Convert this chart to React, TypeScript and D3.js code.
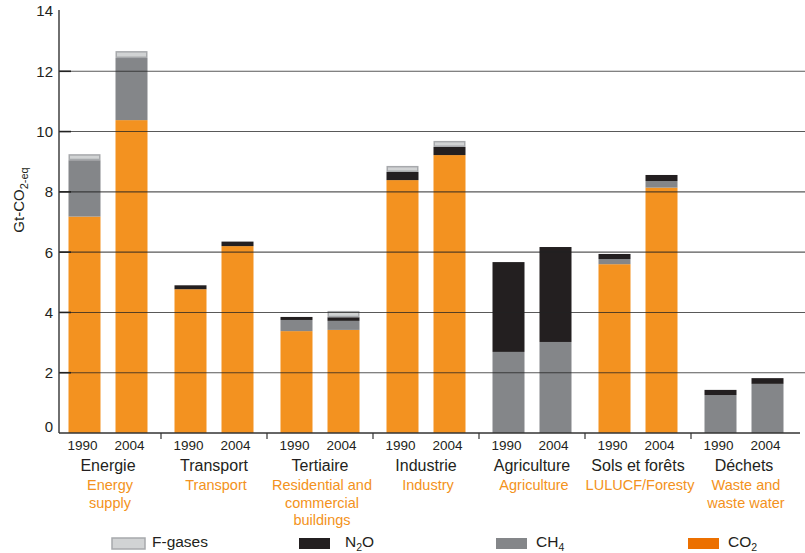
import React from "react";
import * as d3 from "d3";

const categoriesFr = ["Energie", "Transport", "Tertiaire", "Industrie", "Agriculture", "Sols et forêts", "Déchets"];
const categoriesEn = [
  ["Energy", "supply"],
  ["Transport"],
  ["Residential and", "commercial", "buildings"],
  ["Industry"],
  ["Agriculture"],
  ["LULUCF/Foresty"],
  ["Waste and", "waste water"],
];
const years = ["1990", "2004"];
const yTicks = [0, 2, 4, 6, 8, 10, 12, 14];

// values per category, in Gt CO2-eq
const co2_1990 = [7.18, 4.77, 3.38, 8.39, 0, 5.6, 0];
const co2_2004 = [10.38, 6.2, 3.42, 9.22, 0, 8.14, 0];
const ch4_1990 = [1.87, 0, 0.37, 0, 2.69, 0.17, 1.26];
const ch4_2004 = [2.06, 0, 0.3, 0, 3.02, 0.22, 1.63];
const n2o_1990 = [0, 0.13, 0.1, 0.27, 2.98, 0.17, 0.17];
const n2o_2004 = [0, 0.15, 0.12, 0.27, 3.15, 0.2, 0.19];
const fgas_1990 = [0.2, 0, 0, 0.2, 0, 0, 0];
const fgas_2004 = [0.23, 0, 0.21, 0.2, 0, 0, 0];

const gases = ["CO2", "CH4", "N2O", "F-gases"];
const colors: Record<string, string> = {
  CO2: "#F39220",
  CH4: "#848689",
  N2O: "#231F20",
  "F-gases": "#D1D3D4",
};

const FONT = "'Liberation Sans', Arial, Helvetica, sans-serif";
const ORANGE = "#F39220";

export default function App() {
  const W = 805;
  const H = 553;
  const x = d3.scaleBand<string>().domain(categoriesFr).range([55, 797]).padding(0);
  const bw = x.bandwidth();
  const xYear = d3
    .scaleBand<string>()
    .domain(years)
    .range([bw / 2 - 39.5, bw / 2 + 39.5])
    .paddingInner(15 / 47)
    .paddingOuter(0);
  const y = d3.scaleLinear().domain([0, 14]).range([433, 11]);

  const table = categoriesFr.flatMap((c, i) =>
    years.map((yr) => {
      const is90 = yr === "1990";
      return {
        cat: c,
        year: yr,
        CO2: is90 ? co2_1990[i] : co2_2004[i],
        CH4: is90 ? ch4_1990[i] : ch4_2004[i],
        N2O: is90 ? n2o_1990[i] : n2o_2004[i],
        "F-gases": is90 ? fgas_1990[i] : fgas_2004[i],
      };
    })
  );
  const stacked = d3.stack<any>().keys(gases)(table);

  const axisX = 59;

  const legendItems = [
    { key: "F-gases", x: 112, w: 33, gap: 7, label: <tspan>F-gases</tspan>, fill: "#D1D3D4", stroke: "#A7A9AC" },
    { key: "N2O", x: 299, w: 31, gap: 15, label: <><tspan>N</tspan><tspan dy={3.5} fontSize={10.5}>2</tspan><tspan dy={-3.5}>O</tspan></>, fill: "#231F20" },
    { key: "CH4", x: 496, w: 31, gap: 9, label: <><tspan>CH</tspan><tspan dy={3.5} fontSize={10.5}>4</tspan></>, fill: "#848689" },
    { key: "CO2", x: 688, w: 31, gap: 9, label: <><tspan>CO</tspan><tspan dy={3.5} fontSize={10.5}>2</tspan></>, fill: "#EC7000" },
  ];

  return (
    <svg width={W} height={H} style={{ position: "absolute", left: 0, top: 0, background: "#fff" }} fontFamily={FONT}>
      {/* bars */}
      {stacked.map((layer) => (
        <g key={layer.key}>
          {layer.map((d, i) => {
            const row = table[i];
            const h = y(d[0]) - y(d[1]);
            if (h <= 0.01) return null;
            const bx = (x(row.cat) ?? 0) + (xYear(row.year) ?? 0);
            const isF = layer.key === "F-gases";
            return (
              <rect
                key={i}
                x={isF ? bx + 0.75 : bx}
                y={isF ? y(d[1]) + 0.75 : y(d[1])}
                width={isF ? xYear.bandwidth() - 1.5 : xYear.bandwidth()}
                height={isF ? h - 1.5 : h}
                fill={colors[layer.key]}
                stroke={isF ? "#A7A9AC" : "none"}
                strokeWidth={isF ? 1.5 : 0}
              />
            );
          })}
        </g>
      ))}

      {/* gridlines */}
      {yTicks
        .filter((t) => t > 0 && t < 14)
        .map((t) => (
          <line key={t} x1={axisX} x2={805} y1={y(t)} y2={y(t)} stroke="#222" strokeOpacity={0.75} strokeWidth={1.1} />
        ))}
      {/* y tick marks */}
      {yTicks
        .filter((t) => t > 0 && t < 14)
        .map((t) => (
          <line key={"t" + t} x1={axisX} x2={axisX + 12} y1={y(t)} y2={y(t)} stroke="#222" strokeWidth={1.6} />
        ))}

      {/* axes */}
      <line x1={axisX} x2={axisX} y1={y(14) - 1} y2={y(0)} stroke="#333" strokeWidth={1.4} />
      <line x1={axisX} x2={800} y1={y(0)} y2={y(0)} stroke="#333" strokeWidth={1.4} />
      {categoriesFr.slice(1).map((c) => (
        <line key={c} x1={x(c)!} x2={x(c)!} y1={y(0)} y2={y(0) + 6} stroke="#333" strokeWidth={1.2} />
      ))}

      {/* y tick labels */}
      {yTicks.map((t) => (
        <text key={t} x={53} y={y(t) + (t === 0 ? -6 : 0)} dy="0.36em" textAnchor="end" fontSize={15} fill="#231F20">
          {t}
        </text>
      ))}
      {/* y axis title */}
      <text transform="translate(24,200) rotate(-90)" textAnchor="middle" fontSize={15} fill="#231F20">
        <tspan>Gt-CO</tspan>
        <tspan dy={4} fontSize={11}>2-eq</tspan>
      </text>

      {/* x labels */}
      {categoriesFr.map((c, i) => (
        <g key={c} transform={`translate(${x(c)},0)`}>
          {years.map((yr) => (
            <text key={yr} x={(xYear(yr) ?? 0) + xYear.bandwidth() / 2 - 2} y={450} textAnchor="middle" fontSize={13.5} fill="#231F20">
              {yr}
            </text>
          ))}
          <text x={bw / 2} y={471} textAnchor="middle" fontSize={16} fill="#231F20">
            {c}
          </text>
          {categoriesEn[i].map((line, j) => (
            <text key={j} x={bw / 2 + 2} y={490 + j * 17.5} textAnchor="middle" fontSize={14.5} fill={ORANGE}>
              {line}
            </text>
          ))}
        </g>
      ))}

      {/* legend */}
      {legendItems.map((it) => (
        <g key={it.key}>
          <rect
            x={it.x}
            y={538}
            width={it.w}
            height={11}
            fill={it.fill}
            stroke={it.stroke ?? "none"}
            strokeWidth={it.stroke ? 1.5 : 0}
          />
          <text x={it.x + it.w + it.gap} y={547} fontSize={15.5} fill="#231F20">
            {it.label}
          </text>
        </g>
      ))}
    </svg>
  );
}
